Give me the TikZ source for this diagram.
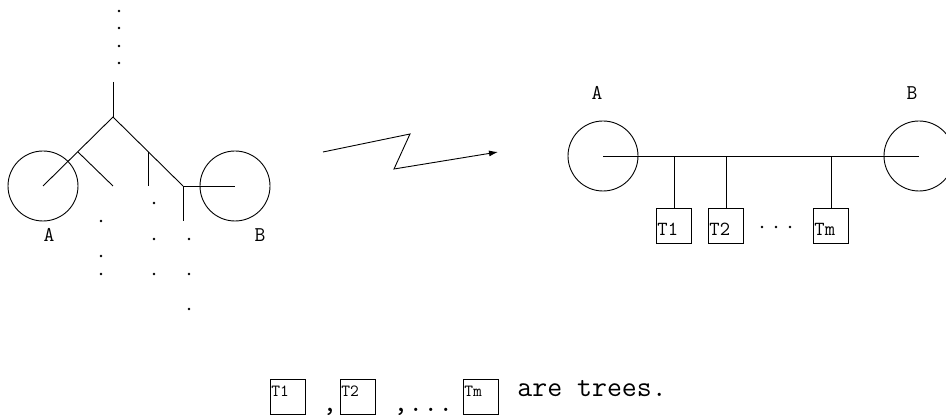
\documentclass[tikz,border=0pt]{standalone}
\usepackage{fontspec}
\usetikzlibrary{arrows.meta}
\begin{document}
\begin{tikzpicture}[x=1pt,y=-1pt,
  every path/.style={line width=0.9pt},
  ring/.style={circle,draw,minimum size=70pt,inner sep=0pt},
  tbox/.style={draw,minimum width=35pt,minimum height=35pt,inner sep=0pt},
  lbl/.style={font=\fontsize{21}{23}\selectfont\ttfamily,inner sep=0pt},
  blbl/.style={font=\fontsize{20}{22}\selectfont\ttfamily,inner sep=0pt,anchor=base west},
  slbl/.style={font=\fontsize{17}{19}\selectfont\ttfamily,inner sep=0pt,anchor=base west},
  big/.style={font=\fontsize{29}{32}\selectfont\ttfamily,inner sep=0pt,anchor=base west},
  dot/.style={circle,fill,inner sep=0pt,minimum size=2.6pt}]
\useasboundingbox (0,0) rectangle (946,419);

% ---- left tree ----
\node[ring] (lA) at (43,186) {};
\node[ring] (lB) at (235,186) {};
\coordinate (top) at (113,82);
\coordinate (j0) at (113,117);
\coordinate (j1) at (78,152);
\coordinate (l1) at (113,186);
\coordinate (j2) at (148,152);
\coordinate (l2) at (148,186);
\coordinate (j3) at (183,186);
\coordinate (l3) at (183,221);
\draw (top) -- (j0);
\draw (lA.center) -- (j0) -- (j3);
\draw (j1) -- (l1);
\draw (j2) -- (l2);
\draw (j3) -- (lB.center);
\draw (j3) -- (l3);
\node[lbl] (lAl) at (49,235) {A};
\node[lbl] (lBl) at (260,235) {B};
\foreach \p [count=\i] in {(119,11),(119,28),(119,46),(119,63),
  (101,221),(101,256),(101,274),(154,203),(154,239),(154,274),
  (189,239),(189,274),(189,309)}
  \node[dot] (ld\i) at \p {};

% ---- arrow ----
\coordinate (a0) at (323,152);
\coordinate (a1) at (410,134);
\coordinate (a2) at (394,169);
\coordinate (a3) at (498,152);
\draw[-{Latex[length=9pt,width=6pt]}] (a0) -- (a1) -- (a2) -- (a3);

% ---- right graph ----
\node[ring] (rA) at (603,156) {};
\node[ring] (rB) at (919,156) {};
\node[lbl] (rAl) at (597,93) {A};
\node[lbl] (rBl) at (912,93) {B};
\draw (rA.center) -- (rB.center);
\node[tbox] (t1) at (674,226) {};
\node[tbox] (t2) at (726,226) {};
\node[tbox] (tm) at (831,226) {};
\foreach \b in {t1,t2,tm}
  \draw (\b.north) -- (\b.north |- rA.center);
\node[blbl] (t1l) at (657,236) {T1};
\node[blbl] (t2l) at (709,236) {T2};
\node[blbl] (tml) at (814,236) {Tm};
\node[dot] (rd1) at (762,227) {};
\node[dot] (rd2) at (776,227) {};
\node[dot] (rd3) at (790,227) {};

% ---- bottom legend ----
\node[tbox] (b1) at (287.5,396.5) {};
\node[tbox] (b2) at (357.5,396.5) {};
\node[tbox] (bm) at (480.5,396.5) {};
\node[slbl] (b1l) at (271,397) {T1};
\node[slbl] (b2l) at (341,397) {T2};
\node[slbl] (bml) at (464,397) {Tm};
\node[big] (c1) at (322,412) {,};
\node[big] (c2) at (393,412) {,...};
\node[big] (txt) at (517,397) {are trees.};
\end{tikzpicture}
\end{document}
